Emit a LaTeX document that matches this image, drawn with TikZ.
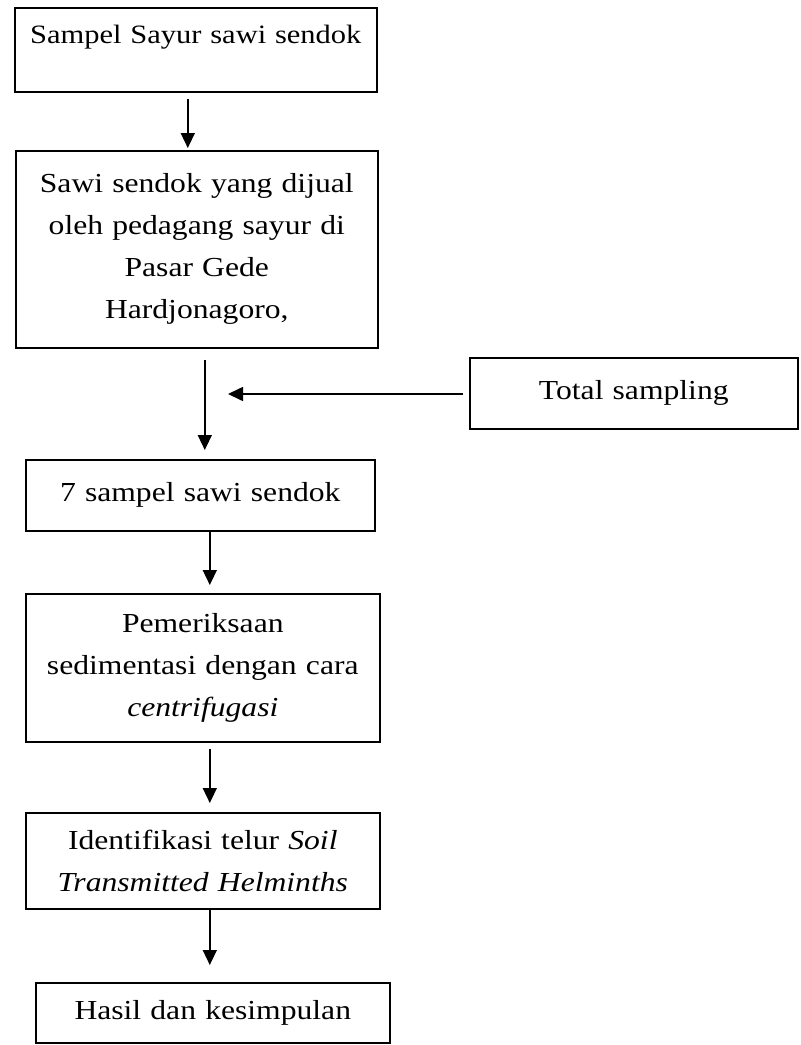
\documentclass[tikz,border=0pt]{standalone}
\usepackage{fontspec}
\setmainfont{Liberation Serif}[FakeStretch=1.15]
\usetikzlibrary{arrows.meta}

\tikzset{
  kotak/.style={draw, line width=1.6pt, inner sep=0pt, anchor=north west, align=center, font=\fontsize{27.5pt}{42pt}\selectfont},
  alur/.style={line width=1.6pt, -{Triangle[length=15pt,width=14pt]}},
}

\begin{document}
\begin{tikzpicture}[x=1pt,y=-1pt]
\useasboundingbox (0,0) rectangle (801,1045);

\node[kotak, font=\fontsize{26.5pt}{42pt}\selectfont, text width=362pt, text height=36pt, text depth=48pt] (sampel) at (14,7) {Sampel Sayur sawi sendok};
\node[kotak, text width=362pt, minimum height=197pt] (sawi) at (15,150) {Sawi sendok yang dijual\\ oleh pedagang sayur di\\ Pasar Gede\\ Hardjonagoro,};
\node[kotak, text width=328pt, minimum height=71pt] (total) at (469,357) {Total sampling};
\node[kotak, text width=349pt, minimum height=71pt] (tujuh) at (25,459) {7 sampel sawi sendok};
\node[kotak, text width=354pt, minimum height=148pt] (periksa) at (25,593) {Pemeriksaan\\ sedimentasi dengan cara\\ \textit{centrifugasi}};
\node[kotak, text width=354pt, minimum height=96pt] (identif) at (25,812) {Identifikasi telur \textit{Soil}\\ \textit{Transmitted Helminths}};
\node[kotak, text width=354pt, minimum height=60pt] (hasil) at (35,982) {Hasil dan kesimpulan};
\coordinate (masuk) at (228,394);

\draw[alur, shorten >=2pt] ([xshift=-8pt,yshift=-6pt]sampel.south) -- ([xshift=-8pt]sampel.south |- sawi.north);
\draw[alur, shorten >=9pt] ([xshift=8pt,yshift=-11pt]sawi.south) -- ([xshift=8pt]sawi.south |- tujuh.north);
\draw[alur, shorten <=6pt] (total.west |- masuk) -- (masuk);
\draw[alur, shorten >=8pt] ([xshift=9.5pt]tujuh.south) -- ([xshift=9.5pt]tujuh.south |- periksa.north);
\draw[alur, shorten >=9pt] ([xshift=7pt,yshift=-6pt]periksa.south) -- ([xshift=7pt]periksa.south |- identif.north);
\draw[alur, shorten >=17pt] ([xshift=7pt]identif.south) -- ([xshift=7pt]identif.south |- hasil.north);

\end{tikzpicture}
\end{document}
